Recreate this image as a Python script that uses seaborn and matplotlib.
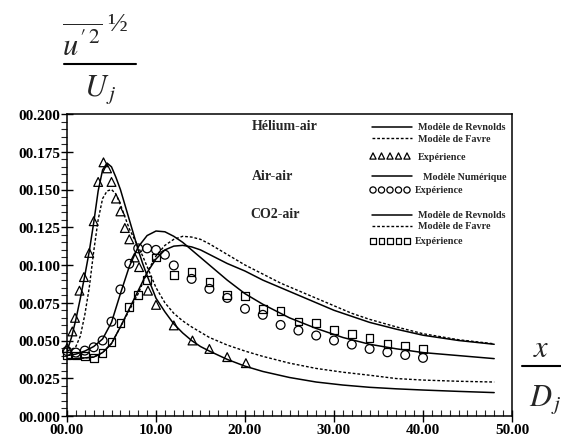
import numpy as np
import pandas as pd
import matplotlib
matplotlib.use("Agg")
import matplotlib.pyplot as plt
from matplotlib.ticker import MultipleLocator
import seaborn as sns

# ---------------- data ----------------
# Hélium-air : modèles (courbes) et expérience (triangles)
he_rey_x = [0, 0.5, 1.0, 1.5, 2.0, 2.5, 3.0, 3.5, 4.0, 4.5, 5.0, 5.5, 6.0, 6.5, 7.0, 7.5,
            8.0, 8.5, 9.0, 10, 11, 12, 13, 14, 15, 16, 18, 20, 22, 25, 28, 31, 34, 37, 40, 44, 48]
he_rey_y = [0.043, 0.052, 0.064, 0.078, 0.093, 0.109, 0.128, 0.149, 0.163, 0.1675, 0.165, 0.158,
            0.150, 0.140, 0.130, 0.120, 0.110, 0.101, 0.093, 0.078, 0.069, 0.061, 0.055, 0.050,
            0.046, 0.043, 0.0375, 0.0330, 0.0295, 0.0255, 0.0225, 0.0205, 0.0190, 0.0180,
            0.0172, 0.0163, 0.0155]

he_fav_x = [0, 0.5, 1.0, 1.5, 2.0, 2.5, 3.0, 3.5, 4.0, 4.5, 5.0, 5.5, 6.0, 6.5, 7.0, 7.5, 8.0,
            8.5, 9.0, 9.5, 10, 11, 12, 13, 14, 15, 16, 18, 20, 22, 25, 28, 31, 34, 37, 40, 44, 48]
he_fav_y = [0.043, 0.044, 0.046, 0.053, 0.067, 0.085, 0.109, 0.130, 0.144, 0.149, 0.150, 0.147,
            0.140, 0.132, 0.124, 0.118, 0.112, 0.106, 0.099, 0.092, 0.085, 0.075, 0.068, 0.063,
            0.059, 0.0555, 0.052, 0.047, 0.043, 0.0395, 0.035, 0.0315, 0.029, 0.027, 0.0248,
            0.0238, 0.023, 0.0225]

he_exp_x = [0, 0.6, 0.9, 1.4, 1.9, 2.5, 3.0, 3.5, 4.1, 4.5, 5.0, 5.5, 6.0, 6.5, 7.0, 7.6,
            8.1, 9.1, 10.0, 12.0, 14.1, 16.0, 18.0, 20.1]
he_exp_y = [0.045, 0.056, 0.065, 0.083, 0.092, 0.108, 0.129, 0.155, 0.168, 0.164, 0.155, 0.144,
            0.1355, 0.1245, 0.117, 0.105, 0.0986, 0.083, 0.0736, 0.060, 0.050, 0.0444, 0.039, 0.035]

# Air-air : modèle numérique et expérience (cercles)
air_num_x = [0, 1, 2, 3, 4, 5, 6, 7, 8, 9, 10, 11, 12, 13, 14, 15, 16, 18, 20, 22, 25, 28,
             31, 34, 37, 40, 44, 48]
air_num_y = [0.040, 0.041, 0.043, 0.046, 0.051, 0.062, 0.081, 0.099, 0.112, 0.1195, 0.1225,
             0.122, 0.119, 0.115, 0.110, 0.105, 0.100, 0.090, 0.081, 0.074, 0.065, 0.058,
             0.052, 0.0475, 0.0445, 0.042, 0.040, 0.038]

air_exp_x = [0, 1, 2, 3, 4, 5, 6, 7, 8, 9, 10, 11, 12, 14, 16, 18, 20, 22, 24, 26, 28, 30,
             32, 34, 36, 38, 40]
air_exp_y = [0.043, 0.042, 0.0433, 0.0455, 0.050, 0.0625, 0.0838, 0.1008, 0.111, 0.111, 0.110,
             0.1068, 0.0997, 0.0908, 0.0842, 0.0782, 0.071, 0.067, 0.0603, 0.0566, 0.0533,
             0.050, 0.0473, 0.0444, 0.0422, 0.0404, 0.0385]

# CO2-air : modèles et expérience (carrés)
co2_rey_x = [0, 1, 2, 3, 4, 5, 6, 7, 8, 9, 10, 11, 12, 13, 14, 15, 16, 18, 20, 22, 24, 26,
             28, 30, 32, 34, 37, 40, 44, 48]
co2_rey_y = [0.038, 0.038, 0.0385, 0.039, 0.042, 0.048, 0.059, 0.071, 0.083, 0.095, 0.104,
             0.110, 0.1125, 0.113, 0.112, 0.110, 0.107, 0.101, 0.096, 0.090, 0.085, 0.080,
             0.075, 0.070, 0.066, 0.062, 0.0575, 0.0535, 0.050, 0.0475]

co2_fav_x = [0, 1, 2, 3, 4, 5, 6, 7, 8, 9, 10, 11, 12, 13, 14, 15, 16, 18, 20, 22, 24, 26,
             28, 30, 32, 34, 37, 40, 44, 48]
co2_fav_y = [0.038, 0.038, 0.0385, 0.039, 0.042, 0.048, 0.059, 0.070, 0.081, 0.095, 0.106,
             0.113, 0.117, 0.119, 0.1185, 0.117, 0.114, 0.107, 0.100, 0.094, 0.088, 0.083,
             0.078, 0.073, 0.068, 0.064, 0.059, 0.0545, 0.0505, 0.0478]

co2_exp_x = [0, 1, 2, 3, 4, 5, 6, 7, 8, 9, 10, 12, 14, 16, 18, 20, 22, 24, 26, 28, 30, 32,
             34, 36, 38, 40]
co2_exp_y = [0.040, 0.040, 0.0396, 0.0385, 0.0416, 0.0489, 0.0615, 0.072, 0.080, 0.090, 0.105,
             0.0935, 0.0953, 0.0888, 0.080, 0.0794, 0.071, 0.0694, 0.0625, 0.0615, 0.057,
             0.0544, 0.0515, 0.0477, 0.0466, 0.0444]

x_ticks = [0, 10, 20, 30, 40, 50]
x_tick_labels = ["00.00", "10.00", "20.00", "30.00", "40.00", "50.00"]
y_ticks = [0.0, 0.025, 0.05, 0.075, 0.1, 0.125, 0.15, 0.175, 0.2]
y_tick_labels = ["00.000", "00.025", "00.050", "00.075", "00.100", "00.125", "00.150",
                 "00.175", "00.200"]

legend_groups = ["Hélium-air", "Air-air", "CO2-air"]
legend_entries = ["Modèle de Revnolds", "Modèle de Favre", "Expérience",
                  "Modèle Numérique", "Expérience",
                  "Modèle de Revnolds", "Modèle de Favre", "Expérience"]

# ---------------- style ----------------
sns.set_style("white")
plt.rcParams["font.family"] = ["Liberation Serif", "DejaVu Serif"]
plt.rcParams["mathtext.fontset"] = "stix"

W, H = 561, 439
fig = plt.figure(figsize=(W / 100, H / 100), dpi=100)
AX_L, AX_R, AX_T, AX_B = 67, 512, 115, 417
ax = fig.add_axes([AX_L / W, (H - AX_B) / H, (AX_R - AX_L) / W, (AX_B - AX_T) / H])

solid = dict(color="black", linewidth=1.1)
dashed = dict(color="black", linewidth=1.0, linestyle=(0, (2.0, 1.4)))

def curve(xs, ys, **kw):
    df = pd.DataFrame({"x": xs, "y": ys})
    sns.lineplot(data=df, x="x", y="y", ax=ax, sort=False, estimator=None, **kw)

curve(he_rey_x, he_rey_y, **solid)
curve(he_fav_x, he_fav_y, **dashed)
curve(air_num_x, air_num_y, **solid)
curve(co2_rey_x, co2_rey_y, **solid)
curve(co2_fav_x, co2_fav_y, **dashed)

mk = dict(facecolors="none", edgecolors="black", linewidths=0.9, clip_on=False, zorder=3)
sns.scatterplot(x=he_exp_x, y=he_exp_y, marker="^", s=40, ax=ax, **mk)
sns.scatterplot(x=air_exp_x, y=air_exp_y, marker="o", s=40, ax=ax, **mk)
sns.scatterplot(x=co2_exp_x, y=co2_exp_y, marker="s", s=30, ax=ax, **mk)

ax.set_xlim(0, 50)
ax.set_ylim(0, 0.2)
ax.set_xlabel("")
ax.set_ylabel("")
ax.set_xticks(x_ticks)
ax.set_xticklabels(x_tick_labels)
ax.set_yticks(y_ticks)
ax.set_yticklabels(y_tick_labels)
ax.xaxis.set_minor_locator(MultipleLocator(1))
ax.yaxis.set_minor_locator(MultipleLocator(0.005))
for lab in ax.get_xticklabels() + ax.get_yticklabels():
    lab.set_fontweight("bold")
    lab.set_fontsize(11)
ax.tick_params(axis="x", which="major", direction="inout", length=8, width=1.0,
               bottom=True, top=False, pad=1, colors="black")
ax.tick_params(axis="x", which="minor", direction="in", length=4, width=0.8,
               bottom=True, top=False)
ax.tick_params(axis="y", which="major", direction="inout", length=8, width=1.0,
               left=True, right=False, pad=1, colors="black")
ax.tick_params(axis="y", which="minor", direction="out", length=4, width=0.8,
               left=True, right=False)
for sp in ax.spines.values():
    sp.set_visible(True)
    sp.set_color("black")
    sp.set_linewidth(1.1)

# ---------------- legend block ----------------
def axp(px, py):
    return (px - AX_L) / (AX_R - AX_L), (AX_B - py) / (AX_B - AX_T)

group_pos = [(252, 127), (252, 176), (250, 215)]
for name, (px, py) in zip(legend_groups, group_pos):
    ax.text(*axp(px, py), name, transform=ax.transAxes, fontsize=10, fontweight="bold",
            va="center", ha="left")

rows = [("solid", 128, 418), ("dash", 139, 418), ("^", 157, 418),
        ("solid", 177, 423), ("o", 191, 415),
        ("solid", 216, 418), ("dash", 227, 418), ("s", 242, 415)]
for (kind, py, tx), label in zip(rows, legend_entries):
    if kind in ("solid", "dash"):
        x0, y0 = axp(372, py)
        x1, _ = axp(412, py)
        style = solid if kind == "solid" else dashed
        ax.plot([x0, x1], [y0, y0], transform=ax.transAxes, **style)
    else:
        xs = [axp(px, py)[0] for px in (373, 381.5, 390, 398.5, 407)]
        ax.scatter(xs, [axp(0, py)[1]] * 5, transform=ax.transAxes, marker=kind,
                   s=20 if kind != "s" else 16, facecolors="none", edgecolors="black",
                   linewidths=0.9)
    ax.text(*axp(tx, py), label, transform=ax.transAxes, fontsize=7.3,
            fontweight="bold", va="center", ha="left")

# ---------------- axis titles (fractions) ----------------
def fp(px, py):
    return px / W, 1 - py / H

fig.text(*fp(82, 44), r"$\overline{u^{\prime\,2}}$", fontsize=22, ha="center", va="center")
fig.text(*fp(117, 24), "½", fontsize=19, ha="center", va="center",
         family=["Liberation Serif", "DejaVu Serif"])
fig.add_artist(plt.Line2D([64 / W, 136 / W], [1 - 65 / H, 1 - 65 / H],
                          color="black", linewidth=1.5, transform=fig.transFigure))
fig.text(*fp(100, 89), r"$U_{\,j}$", fontsize=22, ha="center", va="center")

fig.text(*fp(541, 350), r"$x$", fontsize=22, ha="center", va="center")
fig.add_artist(plt.Line2D([522 / W, 561 / W], [1 - 367 / H, 1 - 367 / H],
                          color="black", linewidth=1.5, transform=fig.transFigure))
fig.text(*fp(545, 400), r"$D_{\,j}$", fontsize=22, ha="center", va="center")

fig.savefig("out.png", dpi=100)
